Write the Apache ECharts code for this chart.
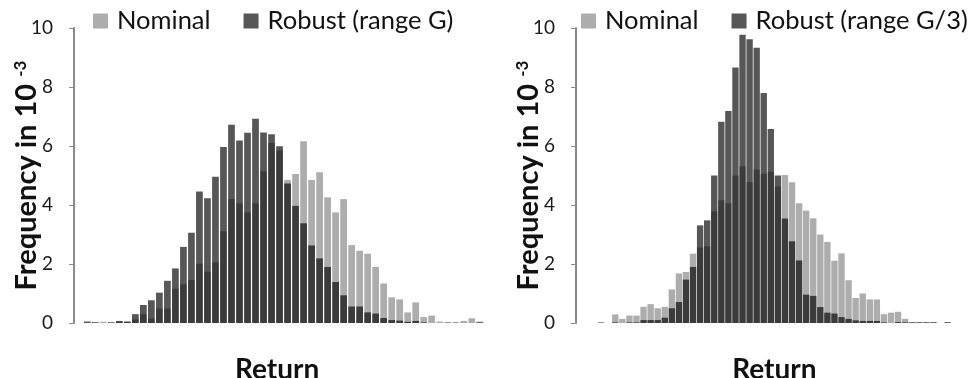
<!DOCTYPE html>
<html>
<head>
<meta charset="utf-8">
<script src="https://cdn.jsdelivr.net/npm/echarts@6/dist/echarts.min.js"></script>
<style>
  html, body { margin: 0; padding: 0; background: #ffffff; }
  #chart { width: 970px; height: 378px; }
</style>
</head>
<body>
<div id="chart"></div>
<script>
// Return histograms, 50 bins per panel, frequencies in units of 1e-3
const returnBins = Array.from({ length: 50 }, (_, i) => 'bin ' + (i + 1));

// Left panel: nominal vs robust (range G)
const nominalG = [
  0, 0.03, 0.04, 0.02, 0.04, 0.06, 0.12, 0.3, 0.15, 0.49,
  0.49, 1.16, 1.31, 1.46, 2.01, 1.74, 2.06, 3.11, 4.2, 4.06,
  3.75, 4.06, 5.14, 6.1, 5.85, 4.85, 5.05, 6.16, 4.85, 5.11,
  4.26, 3.75, 4.2, 2.64, 2.45, 2.35, 1.9, 1.34, 0.87, 0.8,
  0.36, 0.7, 0.2, 0.25, 0.05, 0, 0, 0.07, 0.16, 0.05
];
const robustG = [
  0.05, 0.02, 0, 0.02, 0.07, 0.04, 0.3, 0.61, 0.77, 1.03,
  1.43, 1.85, 2.58, 3.06, 4.46, 4.23, 4.96, 5.97, 6.72, 6.19,
  6.45, 6.92, 6.46, 6.4, 5.99, 4.73, 3.97, 3.38, 2.63, 2.19,
  1.9, 1.39, 0.94, 0.56, 0.56, 0.36, 0.32, 0.17, 0.1, 0.08,
  0.04, 0.07, 0.02, 0, 0, 0.02, 0.02, 0, 0, 0.02
];

// Right panel: nominal vs robust (range G/3)
const nominalG3 = [
  0, 0, 0.29, 0.14, 0.25, 0.25, 0.55, 0.64, 0.5, 0.55,
  1.14, 1.68, 1.73, 2.35, 2.56, 2.6, 3.79, 4.16, 4.06, 5.0,
  5.31, 4.77, 5.2, 5.06, 5.13, 4.63, 5.02, 4.77, 4.06, 3.81,
  3.55, 3.0, 2.75, 2.11, 2.36, 1.45, 0.85, 1.0, 0.8, 0.8,
  0.3, 0.35, 0.38, 0.14, 0, 0, 0, 0, 0, 0
];
const robustG3 = [
  0.02, 0, 0.02, 0, 0.02, 0.02, 0.1, 0.1, 0.1, 0.18,
  0.5, 0.71, 1.47, 1.9, 3.31, 3.48, 5.0, 6.82, 7.19, 8.66,
  9.77, 9.62, 9.33, 7.8, 6.58, 5.0, 3.54, 2.77, 2.12, 0.96,
  0.92, 0.54, 0.35, 0.32, 0.2, 0.14, 0.09, 0.07, 0.07, 0.07,
  0.02, 0, 0.03, 0.02, 0.03, 0.03, 0.03, 0.03, 0, 0.03
];

const yTicks = { min: 0, max: 10, step: 2 };
const seriesNames = ['Nominal', 'Robust (range G)', 'Robust (range G/3)'];

const FONT = 'Lato, "Open Sans", sans-serif';
const LIGHT = '#adadad';
const DARK = 'rgba(0,0,0,0.66)';

function yAxisFor(gridIndex, offset) {
  return {
    type: 'value',
    gridIndex,
    min: yTicks.min,
    max: yTicks.max,
    interval: yTicks.step,
    offset,
    axisLine: { show: true, lineStyle: { color: '#8a8a8a', width: 2 } },
    axisTick: { show: true, length: 5, lineStyle: { color: '#8a8a8a', width: 1 } },
    splitLine: { show: false },
    axisLabel: { fontFamily: FONT, fontSize: 19, color: '#1a1a1a', margin: 21 },
    name: '{a|Frequency in 10 }{b|-3}',
    nameLocation: 'middle',
    nameRotate: 90,
    nameGap: 32,
    nameMoveOverlap: false,
    nameTextStyle: {
      rich: {
        a: { fontFamily: FONT, fontSize: 29, fontWeight: 'bold', color: '#111', lineHeight: 30 },
        b: { fontFamily: FONT, fontSize: 17, fontWeight: 'bold', color: '#111', verticalAlign: 'top', lineHeight: 30 }
      }
    }
  };
}

function xAxisFor(gridIndex, namePad) {
  return {
    type: 'category',
    gridIndex,
    data: returnBins,
    axisLine: { show: false },
    axisTick: { show: false },
    axisLabel: { show: false },
    name: 'Return',
    nameLocation: 'middle',
    nameGap: 33,
    nameMoveOverlap: false,
    nameTextStyle: {
      fontFamily: FONT, fontSize: 28, fontWeight: 'bold', color: '#111',
      lineHeight: 28, padding: namePad
    }
  };
}

function bars(name, data, axisIndex, color, gap) {
  return {
    name,
    type: 'bar',
    xAxisIndex: axisIndex,
    yAxisIndex: axisIndex,
    data,
    barGap: '-100%',
    barCategoryGap: gap,
    itemStyle: { color },
    emphasis: { disabled: true },
    animation: false
  };
}

function legendFor(left, names) {
  return {
    left,
    top: 6,
    width: 420,
    padding: 0,
    orient: 'horizontal',
    data: names,
    icon: 'rect',
    itemWidth: 15,
    itemHeight: 15,
    itemGap: 33,
    selectedMode: false,
    textStyle: { fontFamily: FONT, fontSize: 25.5, color: '#111', lineHeight: 30, padding: [0, 0, 0, 4] }
  };
}

const chart = echarts.init(document.getElementById('chart'), null, { renderer: 'canvas' });
chart.setOption({
  backgroundColor: '#ffffff',
  animation: false,
  legend: [
    legendFor(93, [seriesNames[0], seriesNames[1]]),
    legendFor(581, [seriesNames[0], seriesNames[2]])
  ],
  grid: [
    { left: 83.3, width: 400.5, top: 28, height: 295, outerBoundsMode: 'none' },
    { left: 597.6, width: 353.5, top: 28, height: 295, outerBoundsMode: 'none' }
  ],
  xAxis: [xAxisFor(0, [0, 13, 0, 0]), xAxisFor(1, 0)],
  yAxis: [yAxisFor(0, 9.3), yAxisFor(1, 21.6)],
  series: [
    bars(seriesNames[0], nominalG, 0, LIGHT, '16%'),
    bars(seriesNames[1], robustG, 0, DARK, '16%'),
    bars(seriesNames[0], nominalG3, 1, LIGHT, '10%'),
    bars(seriesNames[2], robustG3, 1, DARK, '10%')
  ]
});
</script>
</body>
</html>
